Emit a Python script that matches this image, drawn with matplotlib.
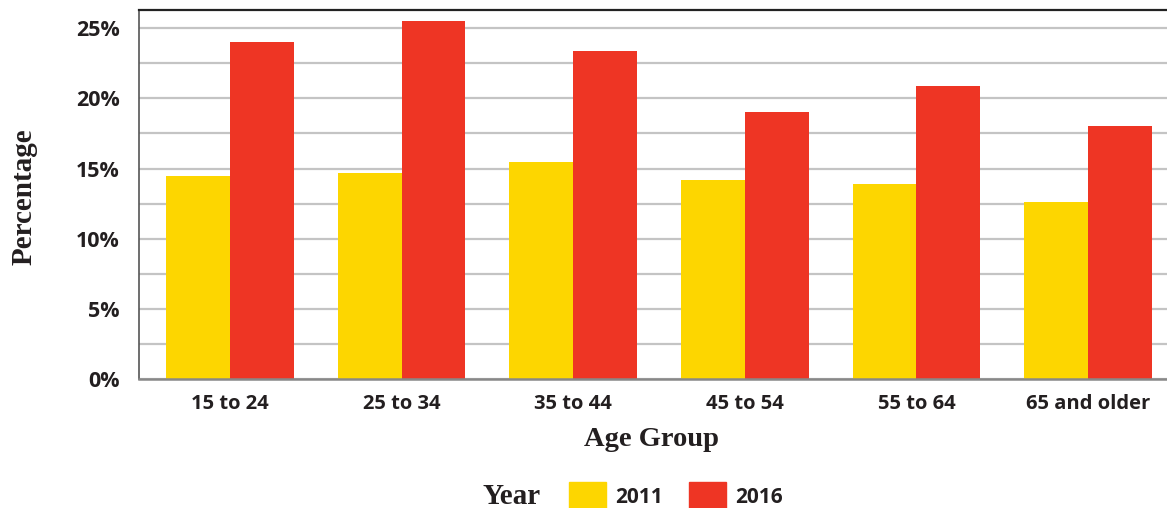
import matplotlib
matplotlib.use("Agg")
import matplotlib.pyplot as plt
import numpy as np
from matplotlib.patches import Patch

categories = ["15 to 24", "25 to 34", "35 to 44", "45 to 54", "55 to 64", "65 and older"]
values_2011 = [14.5, 14.7, 15.5, 14.2, 13.9, 12.6]
values_2016 = [24.0, 25.5, 23.4, 19.0, 20.9, 18.0]
series_names = ["2011", "2016"]
yticks = [0, 5, 10, 15, 20, 25]
ytick_labels = ["0%", "5%", "10%", "15%", "20%", "25%"]

c_2011 = "#FDD600"
c_2016 = "#EE3524"
text_c = "#231F20"
tick_font = "Open Sans"
title_font = "Liberation Serif"

fig = plt.figure(figsize=(11.67, 5.08), dpi=100)
ax = fig.add_axes([139/1167, 1 - 379/508, 1 - 139/1167, (379 - 10)/508])

x = np.arange(len(categories))
w = 0.372
ax.bar(x - w/2, values_2011, width=w, color=c_2011, zorder=3)
ax.bar(x + w/2, values_2016, width=w, color=c_2016, zorder=3)

ax.set_xlim(-0.53, 5.46)
ax.set_ylim(0, 26.3)

ax.set_yticks(yticks)
ax.set_yticklabels(ytick_labels)
ax.set_yticks(np.arange(2.5, 26, 5), minor=True)
ax.grid(axis="y", which="both", color="#c4c4c4", linewidth=1.6, zorder=0)
ax.tick_params(axis="y", which="both", length=0, pad=14)
ax.set_xticks(x)
ax.set_xticklabels(categories)
ax.tick_params(axis="x", length=0, pad=11)
for lab in ax.get_xticklabels():
    lab.set_fontfamily(tick_font)
    lab.set_fontweight("bold")
    lab.set_fontsize(14.5)
    lab.set_color(text_c)
for lab in ax.get_yticklabels():
    lab.set_fontfamily(tick_font)
    lab.set_fontweight("bold")
    lab.set_fontsize(15.5)
    lab.set_color(text_c)

ax.spines["right"].set_visible(False)
ax.spines["top"].set_color("#222222")
ax.spines["top"].set_linewidth(1.6)
ax.spines["left"].set_color("#555555")
ax.spines["left"].set_linewidth(1.2)
ax.spines["bottom"].set_color("#888888")
ax.spines["bottom"].set_linewidth(1.8)
ax.spines["bottom"].set_zorder(4)

fig.text(24/1167, 1 - 197/508, "Percentage", rotation=90, ha="center", va="center",
         fontfamily=title_font, fontweight="bold", fontsize=21, color=text_c)
fig.text(651/1167, 1 - 440/508, "Age Group", ha="center", va="center",
         fontfamily=title_font, fontweight="bold", fontsize=20.5, color=text_c)
fig.text(512/1167, 1 - 496/508, "Year", ha="center", va="center",
         fontfamily=title_font, fontweight="bold", fontsize=21, color=text_c)

handles = [Patch(color=c_2011), Patch(color=c_2016)]
leg = fig.legend(handles, series_names, loc="center", bbox_to_anchor=(676/1167, 1 - 496/508),
                 ncol=2, frameon=False, handlelength=1.75, handleheight=1.7,
                 handletextpad=0.45, columnspacing=1.25, borderpad=0,
                 prop={"family": tick_font, "weight": "bold", "size": 15})
for t in leg.get_texts():
    t.set_color(text_c)

fig.savefig("out.png", dpi=100)
